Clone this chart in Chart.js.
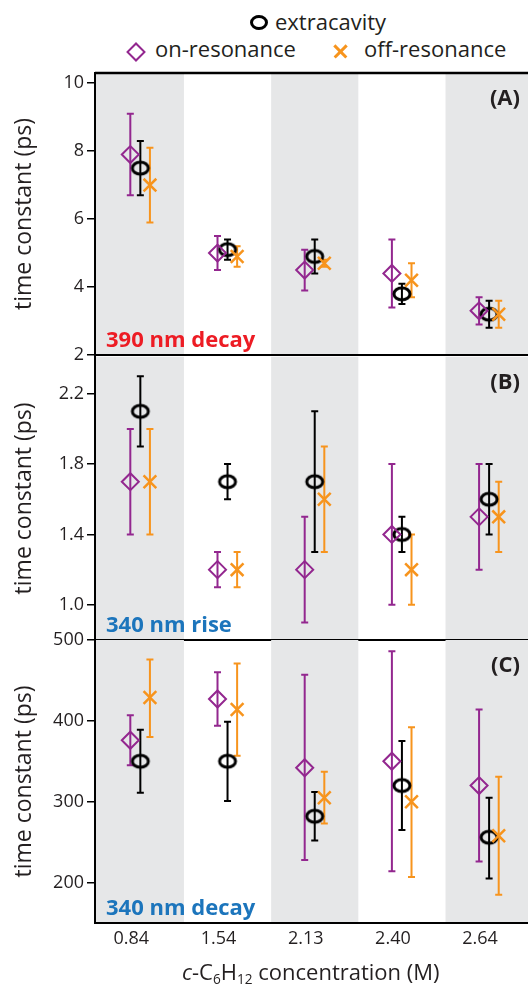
<!DOCTYPE html>
<html><head><meta charset="utf-8">
<script src="https://cdn.jsdelivr.net/npm/chart.js@4.4.1/dist/chart.umd.min.js"></script>
<style>
html,body{margin:0;padding:0;background:#fff;}
#wrap{position:relative;width:528px;height:986px;overflow:hidden;font-family:"Open Sans",sans-serif;color:#231f20;}
canvas{position:absolute;left:0;}
.lg{position:absolute;font-size:22px;line-height:22px;white-space:nowrap;}
.sym-circle{position:absolute;left:250px;top:15px;width:18px;height:15px;border:3.5px solid #000;border-radius:50%;box-sizing:border-box;}
.sym-diamond{position:absolute;left:129px;top:45px;width:14px;height:14px;border:2.5px solid #93278f;box-sizing:border-box;transform:rotate(45deg);}
.bar{position:absolute;left:331.5px;top:49.5px;width:17px;height:2.5px;background:#f7941d;}
.xt{position:absolute;left:182px;top:960px;font-size:22px;line-height:22px;white-space:nowrap;}
.xt sub{font-size:0.62em;vertical-align:-0.3em;line-height:0;}
</style></head>
<body>
<div id="wrap">
  <div class="sym-circle"></div><div class="lg" style="left:275px;top:10px;">extracavity</div>
  <div class="sym-diamond"></div><div class="lg" style="left:155px;top:37px;">on-resonance</div>
  <div class="bar" style="transform:rotate(45deg)"></div><div class="bar" style="transform:rotate(-45deg)"></div>
  <div class="lg" style="left:364px;top:37px;">off-resonance</div>
  <canvas id="cA" width="528" height="370" style="top:0px"></canvas>
  <canvas id="cB" width="528" height="312" style="top:343px"></canvas>
  <canvas id="cC" width="528" height="366" style="top:620px"></canvas>
  <div class="xt"><i>c</i>-C<sub>6</sub>H<sub>12</sub> concentration (M)</div>
</div>
<script>
// ---- data ----
const categories = ['0.84', '1.54', '2.13', '2.40', '2.64'];

// Panel A: 390 nm decay (ps)
const extraA   = [7.5, 5.1, 4.9, 3.8, 3.2];
const extraALo = [6.7, 4.8, 4.4, 3.5, 2.8];
const extraAHi = [8.3, 5.4, 5.4, 4.1, 3.6];
const onA      = [7.9, 5.0, 4.5, 4.4, 3.3];
const onALo    = [6.7, 4.5, 3.9, 3.4, 2.9];
const onAHi    = [9.1, 5.5, 5.1, 5.4, 3.7];
const offA     = [7.0, 4.9, 4.7, 4.2, 3.2];
const offALo   = [5.9, 4.6, 4.6, 3.7, 2.8];
const offAHi   = [8.1, 5.2, 4.8, 4.7, 3.6];
const ticksA   = [2, 4, 6, 8, 10];

// Panel B: 340 nm rise (ps)
const extraB   = [2.1, 1.7, 1.7, 1.4, 1.6];
const extraBLo = [1.9, 1.6, 1.3, 1.3, 1.4];
const extraBHi = [2.3, 1.8, 2.1, 1.5, 1.8];
const onB      = [1.7, 1.2, 1.2, 1.4, 1.5];
const onBLo    = [1.4, 1.1, 0.9, 1.0, 1.2];
const onBHi    = [2.0, 1.3, 1.5, 1.8, 1.8];
const offB     = [1.7, 1.2, 1.6, 1.2, 1.5];
const offBLo   = [1.4, 1.1, 1.3, 1.0, 1.3];
const offBHi   = [2.0, 1.3, 1.9, 1.4, 1.7];
const ticksB   = [1.0, 1.4, 1.8, 2.2];

// Panel C: 340 nm decay (ps)
const extraC   = [350, 350, 282, 320, 256];
const extraCLo = [311, 301, 252, 265, 205];
const extraCHi = [389, 399, 312, 375, 305];
const onC      = [376, 427, 342, 350, 320];
const onCLo    = [345, 394, 228, 214, 226];
const onCHi    = [407, 460, 457, 486, 414];
const offC     = [429, 414, 305, 300, 258];
const offCLo   = [380, 357, 273, 207, 185];
const offCHi   = [476, 471, 337, 392, 331];
const ticksC   = [200, 300, 400, 500];

// ---- styling ----
const PURPLE = '#93278f', ORANGE = '#f7941d', BLACK = '#000000', TXT = '#231f20';
const FONT = '"Open Sans", sans-serif';

function ellipseMarker() {
  const c = document.createElement('canvas');
  c.width = 22; c.height = 18;
  const g = c.getContext('2d');
  g.lineWidth = 3; g.strokeStyle = BLACK;
  g.beginPath(); g.ellipse(11, 9, 8, 6, 0, 0, Math.PI * 2); g.stroke();
  return c;
}
const circleImg = ellipseMarker();

function series(label, vals, lo, hi, off, style) {
  return Object.assign({
    label, data: vals.map((v, i) => ({ x: i + off, y: v })),
    errLo: lo, errHi: hi, showLine: false, backgroundColor: 'rgba(0,0,0,0)'
  }, style);
}
const onStyle = { borderColor: PURPLE, pointStyle: 'rectRot', pointRadius: 8.5, borderWidth: 2 };
const offStyle = { borderColor: ORANGE, pointStyle: 'crossRot', pointRadius: 9, borderWidth: 2.5 };
const exStyle = { borderColor: BLACK, pointStyle: circleImg, pointRadius: 8, borderWidth: 3 };

const panelPlugin = {
  id: 'panel',
  beforeDatasetsDraw(chart, args, o) {
    const { ctx, chartArea: a, scales } = chart;
    const xs = scales.x, ys = scales.y;
    ctx.save();
    ctx.fillStyle = '#e6e7e8';
    for (let k = 0; k < categories.length; k += 2) {
      const l = k === 0 ? a.left : xs.getPixelForValue(k - 0.5);
      const r = k === categories.length - 1 ? a.right : xs.getPixelForValue(k + 0.5);
      ctx.fillRect(l, a.top, r - l, a.bottom - a.top);
    }
    chart.data.datasets.forEach((ds, di) => {
      const meta = chart.getDatasetMeta(di);
      ctx.strokeStyle = ds.borderColor; ctx.lineWidth = 2;
      meta.data.forEach((pt, i) => {
        const yl = ys.getPixelForValue(ds.errLo[i]), yh = ys.getPixelForValue(ds.errHi[i]);
        const x = pt.x, w = 3.5;
        ctx.beginPath();
        ctx.moveTo(x, yl); ctx.lineTo(x, yh);
        ctx.moveTo(x - w, yl); ctx.lineTo(x + w, yl);
        ctx.moveTo(x - w, yh); ctx.lineTo(x + w, yh);
        ctx.stroke();
      });
    });
    ctx.restore();
  },
  afterDraw(chart, args, o) {
    const { ctx, chartArea: a } = chart;
    ctx.save();
    ctx.strokeStyle = BLACK;
    ctx.beginPath();
    if (o.top) { ctx.lineWidth = 2.5; ctx.moveTo(a.left, a.top); ctx.lineTo(a.right + 2, a.top); ctx.stroke(); }
    ctx.lineWidth = 2;
    ctx.beginPath();
    ctx.moveTo(a.left, a.bottom); ctx.lineTo(a.right + 2, a.bottom);
    ctx.moveTo(a.left, a.top - 1); ctx.lineTo(a.left, a.bottom + 1);
    ctx.stroke();
    ctx.font = 'bold 22px ' + FONT;
    ctx.fillStyle = TXT; ctx.textAlign = 'right'; ctx.textBaseline = 'alphabetic';
    ctx.fillText(o.tag, 520, a.top + 32);
    ctx.fillStyle = o.color; ctx.textAlign = 'left';
    ctx.fillText(o.name, 106, a.bottom - 8);
    ctx.restore();
  }
};

function makeChart(id, datasets, yMin, yMax, yTicks, fmt, pad, showX, tag, name, color, top) {
  new Chart(document.getElementById(id), {
    type: 'scatter',
    data: { datasets },
    plugins: [panelPlugin],
    options: {
      responsive: false, animation: false, events: [],
      layout: { autoPadding: false, padding: { left: 0, right: 0, top: pad[0], bottom: pad[1] } },
      plugins: { legend: { display: false }, tooltip: { enabled: false },
        panel: { tag, name, color, top } },
      scales: {
        x: {
          type: 'linear', min: -0.52, max: 4.446, display: showX,
          grid: { display: false, drawTicks: false }, border: { display: false },
          afterBuildTicks: s => { s.ticks = categories.map((c, i) => ({ value: i })); },
          afterFit: s => { s.height = showX ? 35 : 0; },
          ticks: { callback: v => categories[v], font: { family: FONT, size: 18 }, color: TXT,
                   padding: 5, labelOffset: -9, maxRotation: 0, autoSkip: false }
        },
        y: {
          min: yMin, max: yMax,
          afterBuildTicks: s => { s.ticks = yTicks.map(v => ({ value: v })); },
          afterFit: s => { s.width = 95; },
          border: { display: false },
          grid: { drawOnChartArea: false, drawTicks: true, tickLength: 8, tickColor: BLACK, lineWidth: 1.5 },
          ticks: { callback: fmt, font: { family: FONT, size: 18 }, color: TXT, padding: 3 },
          title: { display: true, text: 'time constant (ps)', font: { family: FONT, size: 23 },
                   color: TXT, padding: { top: 11, bottom: 0 } }
        }
      }
    }
  });
}

const OFF_ON = -0.115, OFF_EX = 0, OFF_OFF = 0.11;

makeChart('cA', [
  series('on-resonance', onA, onALo, onAHi, OFF_ON, onStyle),
  series('off-resonance', offA, offALo, offAHi, OFF_OFF, offStyle),
  series('extracavity', extraA, extraALo, extraAHi, OFF_EX, exStyle)
], 2, 10.3, ticksA, v => String(v), [73, 15], false, '(A)', '390 nm decay', '#ed1c24', true);

makeChart('cB', [
  series('on-resonance', onB, onBLo, onBHi, OFF_ON, onStyle),
  series('off-resonance', offB, offBLo, offBHi, OFF_OFF, offStyle),
  series('extracavity', extraB, extraBLo, extraBHi, OFF_EX, exStyle)
], 0.8, 2.41, ticksB, v => v.toFixed(1), [12, 15], false, '(B)', '340 nm rise', '#1c75bc', false);

makeChart('cC', [
  series('on-resonance', onC, onCLo, onCHi, OFF_ON, onStyle),
  series('off-resonance', offC, offCLo, offCHi, OFF_OFF, offStyle),
  series('extracavity', extraC, extraCLo, extraCHi, OFF_EX, exStyle)
], 150, 500, ticksC, v => String(v), [20, 28], true, '(C)', '340 nm decay', '#1c75bc', false);
</script>
</body></html>
